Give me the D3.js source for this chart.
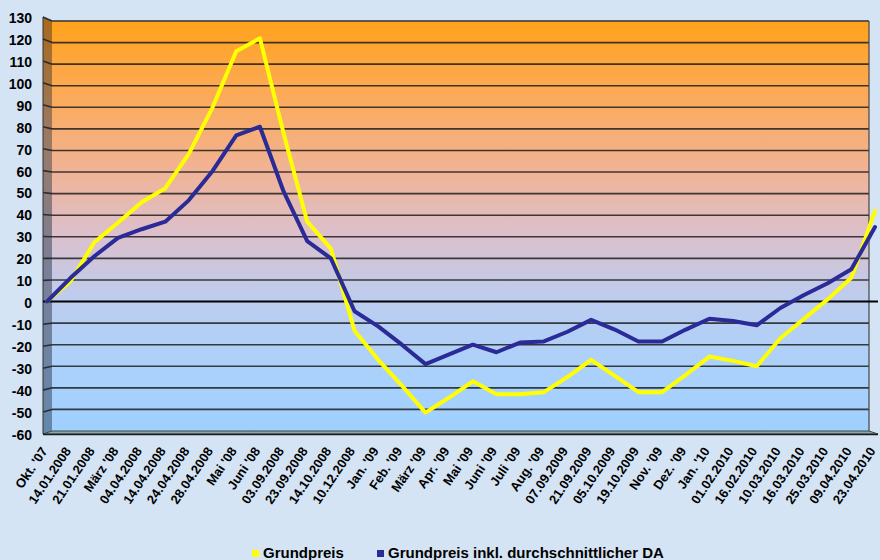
<!DOCTYPE html>
<html>
<head>
<meta charset="utf-8">
<script src="https://cdn.jsdelivr.net/npm/d3@7"></script>
<style>
  html, body { margin: 0; padding: 0; background: #d4e4f4; }
  svg { display: block; font-family: "Liberation Sans", Arial, sans-serif; }
</style>
</head>
<body>
<svg id="chart" width="880" height="560"></svg>
<script>
// Price change in percent since October 2007
const categories = ["Okt. '07","14.01.2008","21.01.2008","März '08","04.04.2008","14.04.2008","24.04.2008","28.04.2008","Mai '08","Juni '08","03.09.2008","23.09.2008","14.10.2008","10.12.2008","Jan. '09","Feb. '09","März '09","Apr. '09","Mai '09","Juni '09","Juli '09","Aug. '09","07.09.2009","21.09.2009","05.10.2009","19.10.2009","Nov. '09","Dez. '09","Jan. '10","01.02.2010","16.02.2010","10.03.2010","16.03.2010","25.03.2010","09.04.2010","23.04.2010"];

const grundpreis = [0, 9.5, 27.5, 36.5, 46, 52.5, 68.5, 90, 116, 122, 78, 37, 24.5, -13.5, -27, -39, -51.5, -44.5, -37, -43, -43, -42, -35, -27, -34.5, -42, -42, -34, -25.5, -27.5, -30, -17, -8, 1, 11, 42];

const grundpreisInklDA = [0, 11, 21, 29.5, 33.5, 37, 47, 60.5, 77, 81, 51, 28, 20, -4.5, -11.5, -20, -29, -24.5, -20, -23.5, -19, -18.5, -14, -8.5, -13, -18.5, -18.5, -13, -8, -9, -11, -3, 3, 8.5, 15, 34.5];

const yTicks = [-60, -50, -40, -30, -20, -10, 0, 10, 20, 30, 40, 50, 60, 70, 80, 90, 100, 110, 120, 130];

const seriesNames = ["Grundpreis", "Grundpreis inkl. durchschnittlicher DA"];
const seriesColors = ["#ffff00", "#2b2b98"];

const svg = d3.select("#chart");

// back wall and side wall geometry
const wall = { x0: 52, x1: 869, top: 21, bottom: 431 };
const front = { x: 43, top: 17, bottom: 434 };

const y = d3.scaleLinear().domain([-60, 130]).range([wall.bottom, wall.top]);
const x = d3.scalePoint().domain(d3.range(categories.length)).range([47, 875]);
// vertical position of a value on the front edge of the side wall
const yFront = v => front.top + (y(v) - wall.top) * (front.bottom - front.top) / (wall.bottom - wall.top);

const defs = svg.append("defs");
const g1 = defs.append("linearGradient").attr("id", "wallGrad")
  .attr("gradientUnits", "userSpaceOnUse").attr("x1", 0).attr("x2", 0)
  .attr("y1", wall.top).attr("y2", wall.bottom);
[[0, "#ffa21c"], [0.18, "#fcaa58"], [0.36, "#f1b394"], [0.52, "#dcc0cc"], [0.68, "#bccdef"], [0.85, "#abd1fb"], [1, "#a0d0ff"]]
  .forEach(([o, c]) => g1.append("stop").attr("offset", o).attr("stop-color", c));

const g2 = defs.append("linearGradient").attr("id", "sideGrad")
  .attr("gradientUnits", "userSpaceOnUse").attr("x1", 0).attr("x2", 0)
  .attr("y1", front.top).attr("y2", front.bottom);
[[0, "#a86a1c"], [0.3, "#9a7a66"], [0.6, "#7a7f98"], [1, "#6388ac"]]
  .forEach(([o, c]) => g2.append("stop").attr("offset", o).attr("stop-color", c));

// background
svg.append("rect").attr("width", 880).attr("height", 560).attr("fill", "#d4e4f4");

// back wall
svg.append("rect")
  .attr("x", wall.x0).attr("y", wall.top)
  .attr("width", wall.x1 - wall.x0).attr("height", wall.bottom - wall.top)
  .attr("fill", "url(#wallGrad)");

// side wall
svg.append("polygon")
  .attr("points", [[front.x, front.top], [wall.x0, wall.top], [wall.x0, wall.bottom], [front.x, front.bottom]].join(" "))
  .attr("fill", "url(#sideGrad)");

// floor
svg.append("polygon")
  .attr("points", [[front.x, front.bottom], [wall.x0, wall.bottom], [wall.x1, wall.bottom], [878, front.bottom]].join(" "))
  .attr("fill", "#8ea7a6").attr("stroke", "#3a4a4a").attr("stroke-width", 1);
svg.append("line")
  .attr("x1", front.x).attr("x2", 878).attr("y1", front.bottom + 0.5).attr("y2", front.bottom + 0.5)
  .attr("stroke", "#1a1a1a").attr("stroke-width", 1.5);

// horizontal gridlines on wall and side wall
const grid = svg.append("g");
yTicks.filter(t => t !== 0 && t !== -60).forEach(t => {
  grid.append("line")
    .attr("x1", wall.x0).attr("x2", wall.x1).attr("y1", y(t)).attr("y2", y(t))
    .attr("stroke", "#1e1e1e").attr("stroke-width", 1.6).attr("stroke-opacity", 0.85);
  grid.append("line")
    .attr("x1", front.x).attr("x2", wall.x0).attr("y1", yFront(t)).attr("y2", y(t))
    .attr("stroke", "#1e1e1e").attr("stroke-width", 1.6).attr("stroke-opacity", 0.85);
});

// wall outlines
svg.append("line").attr("x1", wall.x0).attr("x2", wall.x1).attr("y1", wall.top).attr("y2", wall.top)
  .attr("stroke", "#555").attr("stroke-width", 1);
svg.append("line").attr("x1", wall.x1).attr("x2", wall.x1).attr("y1", wall.top).attr("y2", wall.bottom)
  .attr("stroke", "#444").attr("stroke-width", 1.2);
svg.append("line").attr("x1", front.x).attr("x2", front.x).attr("y1", front.top).attr("y2", front.bottom)
  .attr("stroke", "#333").attr("stroke-width", 1);
svg.append("line").attr("x1", front.x).attr("x2", wall.x0).attr("y1", front.top).attr("y2", wall.top)
  .attr("stroke", "#333").attr("stroke-width", 1);

// zero line across the whole depth
svg.append("line")
  .attr("x1", front.x).attr("x2", 878).attr("y1", y(0)).attr("y2", y(0))
  .attr("stroke", "#000").attr("stroke-width", 2);

// y tick labels
svg.append("g").selectAll("text").data(yTicks).join("text")
  .attr("x", 32).attr("y", d => yFront(d) + 1)
  .attr("dy", "0.35em")
  .attr("text-anchor", "end")
  .attr("font-size", 14).attr("font-weight", "bold").attr("fill", "#000")
  .text(d => d);

// category labels
svg.append("g").selectAll("text").data(categories).join("text")
  .attr("transform", (d, i) => `translate(${x(i) + 1},451) rotate(-56)`)
  .attr("text-anchor", "end")
  .attr("font-size", 13).attr("font-weight", "bold").attr("fill", "#000")
  .text(d => d);

// series lines
const line = d3.line().x((d, i) => x(i)).y(d => y(d));
[grundpreis, grundpreisInklDA].forEach((vals, k) => {
  svg.append("path")
    .attr("d", line(vals))
    .attr("fill", "none")
    .attr("stroke", seriesColors[k])
    .attr("stroke-width", 4)
    .attr("stroke-linejoin", "round")
    .attr("stroke-linecap", "round");
});

// legend
const legendPos = [252, 377];
const legend = svg.append("g");
seriesNames.forEach((name, k) => {
  legend.append("rect")
    .attr("x", legendPos[k]).attr("y", 550).attr("width", 7).attr("height", 7)
    .attr("fill", seriesColors[k]);
  legend.append("text")
    .attr("x", legendPos[k] + 11).attr("y", 558)
    .attr("font-size", 15).attr("font-weight", "bold").attr("fill", "#000")
    .text(name);
});
</script>
</body>
</html>
